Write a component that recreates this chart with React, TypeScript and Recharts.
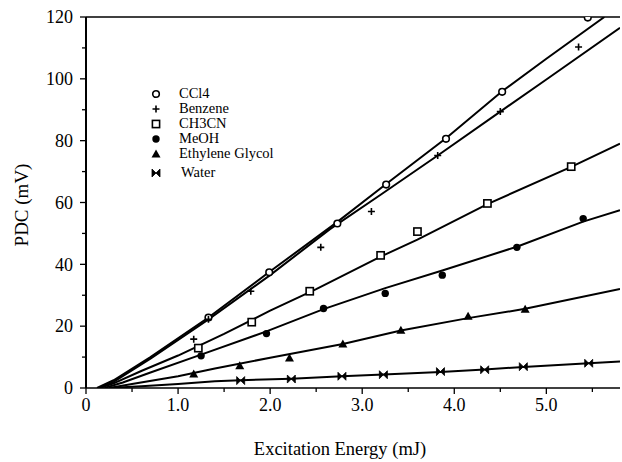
import React from 'react'
import { ScatterChart, Scatter, XAxis, YAxis, ReferenceLine, Legend } from 'recharts'

type Pt = [number, number]

// measured PDC signal (mV) vs excitation energy (mJ)
const ccl4: Pt[] = [[1.33, 22.8], [1.99, 37.4], [2.73, 53.2], [3.26, 65.8], [3.91, 80.6], [4.52, 95.8], [5.45, 119.8]]
const benzene: Pt[] = [[1.17, 15.8], [1.33, 22.2], [1.79, 31.3], [2.55, 45.5], [3.1, 57.1], [3.82, 75.2], [4.5, 89.4], [5.35, 110.3]]
const ch3cn: Pt[] = [[1.22, 12.9], [1.8, 21.3], [2.43, 31.3], [3.2, 42.9], [3.6, 50.6], [4.36, 59.7], [5.27, 71.6]]
const meoh: Pt[] = [[1.25, 10.4], [1.96, 17.6], [2.58, 25.7], [3.25, 30.6], [3.87, 36.5], [4.68, 45.5], [5.4, 54.8]]
const glycol: Pt[] = [[1.17, 4.5], [1.67, 7.2], [2.21, 9.7], [2.79, 14.2], [3.42, 18.7], [4.15, 23.2], [4.77, 25.5]]
const water: Pt[] = [[1.68, 2.4], [2.23, 2.9], [2.78, 3.8], [3.23, 4.3], [3.85, 5.3], [4.33, 5.9], [4.75, 6.9], [5.46, 8.0]]

// hand-drawn fit curves through each set
const ccl4Fit: Pt[] = [[0.12, 0], [0.3, 2.5], [0.7, 10], [1.33, 22.8], [1.99, 37.5], [2.72, 53.5], [3.26, 66], [3.91, 80.8], [4.52, 96], [5.0, 106.5], [5.63, 120]]
const benzeneFit: Pt[] = [[0.15, 0], [0.3, 2], [0.7, 9.5], [1.33, 22.2], [2.0, 36.5], [2.65, 51.4], [3.2, 62.5], [3.82, 75.2], [4.5, 89.4], [5.0, 99.8], [5.8, 116.5]]
const ch3cnFit: Pt[] = [[0.15, 0], [0.3, 1.5], [0.6, 5.5], [1.0, 10.5], [1.5, 17.5], [2.0, 25], [2.5, 32], [3.2, 42.5], [3.6, 48], [4.36, 59.5], [5.27, 71.5], [5.8, 79]]
const meohFit: Pt[] = [[0.2, 0], [0.4, 1.8], [0.7, 5], [1.25, 10.8], [1.96, 18.3], [2.58, 25.5], [3.25, 32.3], [3.87, 38], [4.68, 45.7], [5.4, 53.8], [5.8, 57.5]]
const glycolFit: Pt[] = [[0.25, 0], [0.5, 1.3], [1.0, 3.8], [1.4, 6.3], [2.0, 9.8], [2.79, 14.2], [3.42, 18.6], [4.15, 22.6], [4.77, 25.6], [5.8, 32]]
const waterFit: Pt[] = [[0.25, 0], [0.6, 0.6], [1.0, 1.3], [1.4, 2.2], [1.68, 2.5], [2.23, 3.0], [2.78, 3.8], [3.23, 4.4], [3.85, 5.2], [4.33, 6.0], [4.75, 6.8], [5.46, 8.0], [5.8, 8.6]]

const seriesNames = ['CCl4', 'Benzene', 'CH3CN', 'MeOH', 'Ethylene Glycol', 'Water']

const xTicks = [0, 0.5, 1, 1.5, 2, 2.5, 3, 3.5, 4, 4.5, 5, 5.5]
const yTicks = [0, 10, 20, 30, 40, 50, 60, 70, 80, 90, 100, 110, 120]

const FONT = '"Liberation Serif", serif'

const toXY = (pts: Pt[]) => pts.map(([x, y]) => ({ x, y }))

// marker glyphs, drawn around (cx, cy)
const openCircle = (cx: number, cy: number) => (
  <circle cx={cx} cy={cy} r={3.3} fill="#fff" stroke="#000" strokeWidth={1.6} />
)
const plus = (cx: number, cy: number) => (
  <path d={`M${cx - 3.5},${cy}H${cx + 3.5}M${cx},${cy - 3.5}V${cy + 3.5}`} stroke="#000" strokeWidth={1.6} />
)
const openSquare = (cx: number, cy: number) => (
  <rect x={cx - 3.6} y={cy - 3.6} width={7.2} height={7.2} fill="#fff" stroke="#000" strokeWidth={1.6} />
)
const dot = (cx: number, cy: number) => <circle cx={cx} cy={cy} r={3.7} fill="#000" />
const triangle = (cx: number, cy: number) => (
  <path d={`M${cx},${cy - 4.5}L${cx + 4.5},${cy + 3.5}L${cx - 4.5},${cy + 3.5}Z`} fill="#000" />
)
const bowtie = (cx: number, cy: number) => (
  <path d={`M${cx - 4},${cy - 4}L${cx + 4},${cy + 4}L${cx + 4},${cy - 4}L${cx - 4},${cy + 4}Z`} fill="#000" stroke="#000" strokeWidth={0.8} />
)

const glyphs = [openCircle, plus, openSquare, dot, triangle, bowtie]
const pointSets = [ccl4, benzene, ch3cn, meoh, glycol, water]
const fitSets = [ccl4Fit, benzeneFit, ch3cnFit, meohFit, glycolFit, waterFit]

const XTick = (props: any) => {
  const { x, y, payload } = props
  const v = payload.value as number
  const major = Number.isInteger(v)
  return (
    <g>
      <line x1={x} x2={x} y1={y} y2={y + (major ? 6 : 4)} stroke="#000" strokeWidth={1.3} />
      {major && (
        <text x={x} y={y + 23} textAnchor="middle" fontFamily={FONT} fontSize={18} fill="#000">
          {v === 0 ? '0' : v.toFixed(1)}
        </text>
      )}
    </g>
  )
}

const YTick = (props: any) => {
  const { x, y, payload } = props
  const v = payload.value as number
  const major = v % 20 === 0
  return (
    <g>
      <line x1={x - (major ? 6 : 4)} x2={x} y1={y} y2={y} stroke="#000" strokeWidth={1.3} />
      {major && (
        <text x={x - 13} y={y} dy="0.35em" textAnchor="end" fontFamily={FONT} fontSize={18} fill="#000">
          {v}
        </text>
      )}
    </g>
  )
}

const XTitle = () => (
  <text x={340} y={455} textAnchor="middle" fontFamily={FONT} fontSize={18.5} fill="#000">
    Excitation Energy (mJ)
  </text>
)

const YTitle = () => (
  <text x={21} y={205} transform="rotate(-90 21 205)" dy="0.35em" textAnchor="middle" fontFamily={FONT} fontSize={19} fill="#000">
    PDC (mV)
  </text>
)

const renderLegend = () => (
  <div style={{ fontFamily: FONT, fontSize: 14.5, color: '#000', lineHeight: '15px' }}>
    {seriesNames.map((name, i) => (
      <div key={name} style={{ display: 'flex', alignItems: 'center', height: 15, marginTop: i === 5 ? 4 : 0 }}>
        <svg width={12} height={12} style={{ display: 'block' }}>
          {glyphs[i](6, 6)}
        </svg>
        <span style={{ paddingLeft: i === 5 ? 19 : 17 }}>{name}</span>
      </div>
    ))}
  </div>
)

export default function App() {
  return (
    <div style={{ position: 'absolute', left: 0, top: 0, background: '#fff' }}>
      <ScatterChart width={622} height={462} margin={{ top: 17, right: 2, bottom: 0, left: 0 }}>
        <XAxis
          type="number"
          dataKey="x"
          domain={[0, 5.8]}
          ticks={xTicks}
          interval={0}
          allowDataOverflow
          tickSize={0}
          tickMargin={0}
          tickLine={false}
          tick={<XTick />}
          axisLine={{ stroke: '#000', strokeWidth: 1.6 }}
          height={74}
          label={<XTitle />}
        />
        <YAxis
          type="number"
          dataKey="y"
          domain={[0, 120]}
          ticks={yTicks}
          interval={0}
          allowDataOverflow
          tickSize={0}
          tickMargin={0}
          tickLine={false}
          tick={<YTick />}
          axisLine={{ stroke: '#000', strokeWidth: 2 }}
          width={86}
          label={<YTitle />}
        />
        <ReferenceLine y={120} stroke="#000" strokeWidth={1.6} />
        {fitSets.map((fit, i) => (
          <Scatter
            key={`fit-${i}`}
            data={toXY(fit)}
            line={{ stroke: '#000', strokeWidth: 2 }}
            shape={() => <g />}
            legendType="none"
            isAnimationActive={false}
          />
        ))}
        {pointSets.map((pts, i) => (
          <Scatter
            key={seriesNames[i]}
            name={seriesNames[i]}
            data={toXY(pts)}
            shape={(p: any) => glyphs[i](p.cx, p.cy)}
            isAnimationActive={false}
          />
        ))}
        <Legend
          layout="vertical"
          align="center"
          verticalAlign="middle"
          content={renderLegend}
          wrapperStyle={{ left: 150, top: 86, width: 'auto' }}
        />
      </ScatterChart>
    </div>
  )
}
